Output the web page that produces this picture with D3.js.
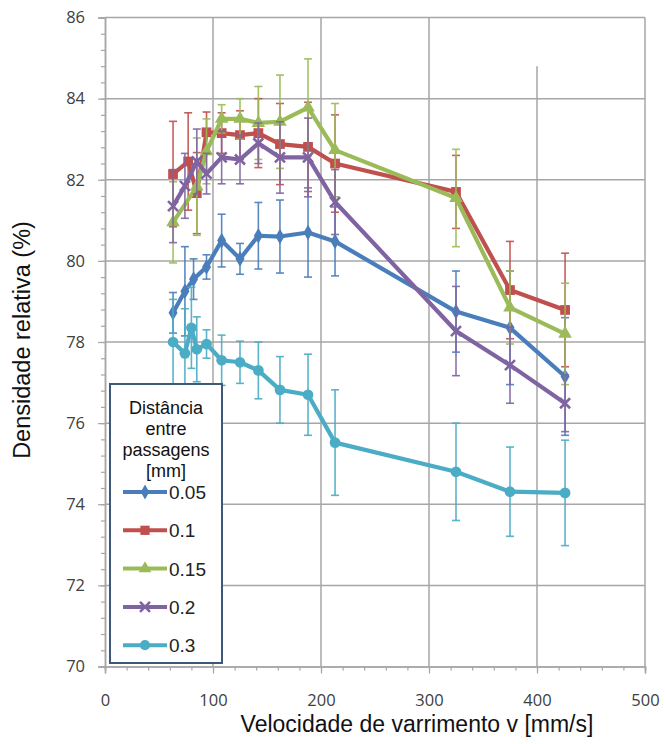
<!DOCTYPE html>
<html><head><meta charset="utf-8">
<script src="https://cdn.jsdelivr.net/npm/d3@7"></script>
<style>body{margin:0;background:#fff}svg{display:block}</style>
</head><body>
<svg id="c" width="665" height="744"></svg>
<script>
const xTicks = [0,100,200,300,400,500];
const yTicks = [70,72,74,76,78,80,82,84,86];
const seriesNames = ["0.05","0.1","0.15","0.2","0.3"];
const seriesColors = ["#4a7ebb","#c0504d","#9bbb59","#8064a2","#4bacc6"];

const blueX = [63,74,82,94,108,125,142,162,188,213,325,375,426];
const blueY = [78.72,79.25,79.55,79.85,80.5,80.05,80.62,80.6,80.7,80.48,78.75,78.35,77.15];
const blueE = [0.5,1.1,0.5,0.3,0.65,0.38,0.82,0.9,1.1,0.85,1.0,1.4,1.45];

const redX = [63,77,85,94,108,125,142,162,188,213,325,375,426];
const redY = [82.14,82.45,81.67,83.17,83.15,83.1,83.15,82.88,82.81,82.4,81.7,79.28,78.79];
const redE = [1.3,1.2,1.0,0.5,0.5,0.6,0.85,1.0,1.1,1.2,0.9,1.2,1.4];

const greenX = [63,85,94,108,125,142,162,188,213,325,375,426];
const greenY = [80.95,81.83,82.7,83.5,83.5,83.4,83.43,83.78,82.73,81.55,78.85,78.2];
const greenE = [1.0,1.2,0.8,0.35,0.5,0.9,1.15,1.2,1.15,1.2,0.9,1.25];

const purpleX = [63,74,85,94,108,125,142,162,188,213,325,375,426];
const purpleY = [81.35,81.85,82.45,82.15,82.55,82.5,82.9,82.55,82.55,81.45,78.27,77.43,76.49];
const purpleE = [0.9,0.8,0.8,0.5,0.65,0.6,0.5,0.88,0.97,0.8,1.1,0.94,0.7];

const cyanX = [63,74,80,85,94,108,125,142,162,188,213,325,375,426];
const cyanY = [78.0,77.72,78.35,77.82,77.95,77.55,77.5,77.3,76.82,76.7,75.52,74.8,74.31,74.28];
const cyanE = [1.05,1.1,1.0,0.8,0.35,0.62,0.52,0.7,0.82,1.0,1.3,1.2,1.1,1.3];

const allX = [blueX,redX,greenX,purpleX,cyanX];
const allY = [blueY,redY,greenY,purpleY,cyanY];
const allE = [blueE,redE,greenE,purpleE,cyanE];
const markers = ["diamond","square","triangle","cross","circle"];

const svg = d3.select("#c");
const L=105, R=645, T=17.5, B=666.5;
const x = d3.scaleLinear().domain([0,500]).range([L,R]);
const y = d3.scaleLinear().domain([70,86]).range([B,T]);
const gridC = "#a6a6a6";

// grid
const g = svg.append("g");
[100,200,300].forEach(v=>g.append("line").attr("x1",x(v)).attr("x2",x(v)).attr("y1",T).attr("y2",B).attr("stroke",gridC).attr("stroke-width",1.5));
g.append("line").attr("x1",x(400)).attr("x2",x(400)).attr("y1",y(84.8)).attr("y2",B).attr("stroke",gridC).attr("stroke-width",1.5);
[72,74,76,78,80,82,84].forEach(v=>g.append("line").attr("x1",L).attr("x2",R).attr("y1",y(v)).attr("y2",y(v)).attr("stroke",gridC).attr("stroke-width",1.5));
g.append("line").attr("x1",L).attr("x2",R).attr("y1",T).attr("y2",T).attr("stroke",gridC).attr("stroke-width",1.5);
g.append("line").attr("x1",R).attr("x2",R).attr("y1",T).attr("y2",B).attr("stroke",gridC).attr("stroke-width",1.5);

// axes
const minorY = d3.range(70,86.01,0.4).map(v=>+v.toFixed(1));
const minorX = d3.range(0,500.1,20);
svg.append("g").attr("transform",`translate(${L},0)`)
  .call(d3.axisLeft(y).tickValues(minorY).tickSize(4).tickFormat(""));
svg.append("g").attr("transform",`translate(${L},0)`)
  .call(d3.axisLeft(y).tickValues(yTicks).tickSize(7).tickPadding(13).tickFormat(d3.format("d")));
svg.append("g").attr("transform",`translate(0,${B})`)
  .call(d3.axisBottom(x).tickValues(minorX).tickSize(4).tickFormat(""));
svg.append("g").attr("transform",`translate(0,${B})`)
  .call(d3.axisBottom(x).tickValues(xTicks).tickSize(7).tickPadding(21).tickFormat(d3.format("d")));
svg.selectAll(".domain").attr("stroke",gridC).attr("stroke-width",1.5);
svg.selectAll(".tick line").attr("stroke",gridC).attr("stroke-width",1.2);
svg.selectAll(".tick text").attr("fill","#404040").style("font-family","'Open Sans'").style("font-size","16.5px");

// error bars + series
const line = d3.line().x(d=>x(d[0])).y(d=>y(d[1]));
function marker(sel, type, color, cx, cy, s){
  if(type==="cross"){
    const k=5;
    sel.append("path").attr("d",`M${cx-k},${cy-k}L${cx+k},${cy+k}M${cx-k},${cy+k}L${cx+k},${cy-k}`)
      .attr("stroke",color).attr("stroke-width",2.6).attr("fill","none");
    return;
  }
  const sym = {diamond:d3.symbolDiamond,square:d3.symbolSquare,triangle:d3.symbolTriangle,circle:d3.symbolCircle}[type];
  const size = {diamond:70*s,square:95*s,triangle:80*s,circle:90*s}[type];
  sel.append("path").attr("d",d3.symbol(sym,size)()).attr("transform",`translate(${cx},${cy})`).attr("fill",color);
}
allX.forEach((xs,i)=>{
  const col = seriesColors[i];
  const gs = svg.append("g");
  const pts = xs.map((v,j)=>[v,allY[i][j],allE[i][j]]);
  pts.forEach(p=>{
    const xx=x(p[0]), y1=y(p[1]-p[2]), y2=y(p[1]+p[2]);
    gs.append("line").attr("x1",xx).attr("x2",xx).attr("y1",y1).attr("y2",y2).attr("stroke",col).attr("stroke-width",1.6).attr("opacity",0.9);
    [y1,y2].forEach(yy=>gs.append("line").attr("x1",xx-4).attr("x2",xx+4).attr("y1",yy).attr("y2",yy).attr("stroke",col).attr("stroke-width",1.6).attr("opacity",0.9));
  });
  gs.append("path").datum(pts).attr("d",line).attr("fill","none").attr("stroke",col).attr("stroke-width",4.2).attr("stroke-linejoin","round");
  pts.forEach(p=>marker(gs,markers[i],col,x(p[0]),y(p[1]),1));
});

// legend
const lg = svg.append("g");
lg.append("rect").attr("x",110).attr("y",384).attr("width",112).attr("height",279).attr("fill","#fff").attr("stroke","#3d5878").attr("stroke-width",2);
const titleLines = ["Distância","entre","passagens","[mm]"];
titleLines.forEach((t,i)=>lg.append("text").attr("x",166).attr("y",414+i*21).attr("text-anchor","middle")
  .style("font-family","'Liberation Sans',Arial").style("font-size","18px").attr("fill","#111").text(t));
seriesNames.forEach((n,i)=>{
  const yy = 492 + i*38.3;
  lg.append("line").attr("x1",123).attr("x2",167).attr("y1",yy).attr("y2",yy).attr("stroke",seriesColors[i]).attr("stroke-width",4);
  marker(lg,markers[i],seriesColors[i],145,yy,0.9);
  lg.append("text").attr("x",169).attr("y",yy+7).style("font-family","'Liberation Sans',Arial").style("font-size","19px").attr("fill","#222").text(n);
});

// axis titles
svg.append("text").attr("transform",`translate(30,340) rotate(-90)`).attr("text-anchor","middle")
  .style("font-family","'Liberation Sans',Arial").style("font-size","23.5px").attr("fill","#111").text("Densidade relativa (%)");
svg.append("text").attr("x",417).attr("y",732).attr("text-anchor","middle")
  .style("font-family","'Liberation Sans',Arial").style("font-size","23px").attr("fill","#111").text("Velocidade de varrimento v [mm/s]");
</script>
</body></html>
